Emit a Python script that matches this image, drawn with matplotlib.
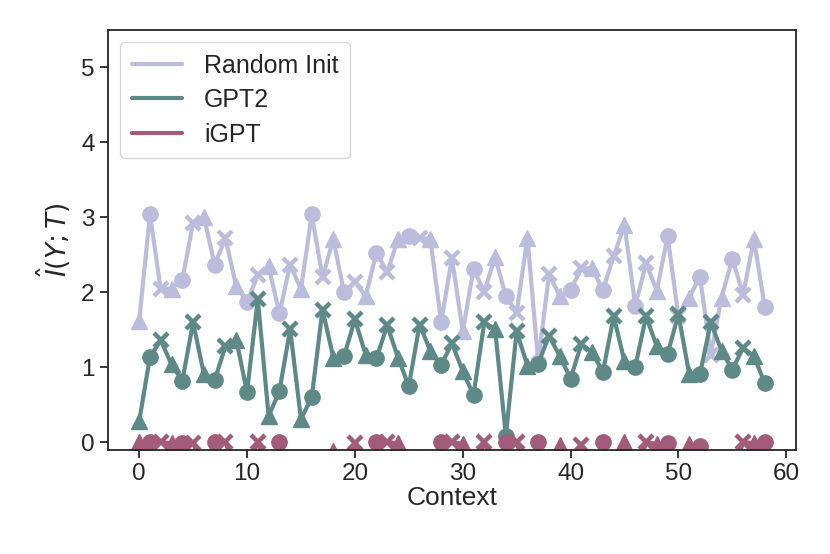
import matplotlib
matplotlib.use("Agg")
import matplotlib.pyplot as plt
import numpy as np
import seaborn as sns

# context index 0..58
context = np.arange(59)

random_init = [1.62, 3.04, 2.04, 2.05, 2.17, 2.93, 3.01, 2.37, 2.72, 2.08,
               1.87, 2.23, 2.35, 1.72, 2.37, 2.04, 3.04, 2.20, 2.71, 2.00,
               2.14, 1.95, 2.53, 2.27, 2.71, 2.75, 2.73, 2.71, 1.60, 2.46,
               1.48, 2.31, 2.01, 2.47, 1.95, 1.73, 2.73, 1.07, 2.24, 1.95,
               2.03, 2.32, 2.32, 2.03, 2.48, 2.90, 1.82, 2.39, 2.02, 2.75,
               1.68, 1.93, 2.21, 1.17, 1.93, 2.45, 1.97, 2.71, 1.81]

gpt2 = [0.28, 1.14, 1.36, 1.04, 0.82, 1.60, 0.91, 0.83, 1.28, 1.37,
        0.67, 1.91, 0.35, 0.68, 1.51, 0.31, 0.60, 1.77, 1.13, 1.15,
        1.64, 1.17, 1.12, 1.56, 1.13, 0.75, 1.57, 1.22, 1.03, 1.32,
        0.95, 0.63, 1.60, 1.51, 0.09, 1.48, 1.02, 1.05, 1.42, 1.15,
        0.85, 1.31, 1.20, 0.94, 1.68, 1.08, 1.01, 1.68, 1.28, 1.18,
        1.71, 0.91, 0.91, 1.60, 1.22, 0.97, 1.26, 1.15, 0.79]

igpt = [0.00, 0.01, 0.00, -0.01, -0.01, -0.01, -0.35, 0.01, 0.00, -0.42,
        -0.30, 0.00, -0.45, 0.01, -0.38, -0.50, -0.33, -0.41, -0.12, -0.36,
        -0.01, -0.44, 0.01, 0.00, -0.01, -0.37, -0.48, -0.32, 0.01, 0.00,
        -0.02, -0.40, 0.00, -0.34, 0.00, 0.00, -0.46, 0.01, -0.39, -0.03,
        -0.31, -0.03, -0.43, 0.01, -0.35, 0.00, -0.47, 0.00, -0.02, -0.01,
        -0.38, -0.02, -0.05, -0.42, -0.33, -0.45, 0.00, -0.01, 0.00]

series_names = ["Random Init", "GPT2", "iGPT"]
colors = ["#bcbddc", "#5d8a86", "#a35b7a"]
markers = ["^", "o", "x"]

sns.set_style("ticks")
plt.rcParams['font.family'] = ['Liberation Sans', 'DejaVu Sans']
plt.rcParams['mathtext.fontset'] = 'dejavusans'

fig = plt.figure(figsize=(8.3, 5.54), dpi=100)
ax = fig.add_axes([0.130, 0.188, 0.829, 0.758])

for name, vals, col in zip(series_names, [random_init, gpt2, igpt], colors):
    vals = np.array(vals)
    ax.plot(context, vals, color=col, linewidth=3, label=name)
    #markers cycle with the context index
    for k, m in enumerate(markers):
        idx = context[k::3]
        if m == "x":
            ax.plot(idx, vals[idx], linestyle="none", marker=m, color=col,
                    markersize=10, markeredgewidth=3.2)
        else:
            ax.plot(idx, vals[idx], linestyle="none", marker=m, color=col,
                    markersize=11 if m == "o" else 11.5)

ax.set_ylim(-0.1, 5.5)
ax.set_xticks([0, 10, 20, 30, 40, 50, 60])
ax.set_yticks([0, 1, 2, 3, 4, 5])
ax.tick_params(labelsize=17.5, length=6, width=1.3, colors="#262626")
for sp in ax.spines.values():
    sp.set_linewidth(1.3)
ax.set_xlabel("Context", fontsize=19, labelpad=1)
ax.set_ylabel(r"$\hat{I}(Y;T)$", fontsize=19, labelpad=6)

ax.legend(loc="upper left", fontsize=18, handlelength=2.0, frameon=True,
          borderpad=0.45, labelspacing=0.42, handletextpad=0.9,
          bbox_to_anchor=(0.0, 1.0))

plt.savefig("out.png", dpi=100)
